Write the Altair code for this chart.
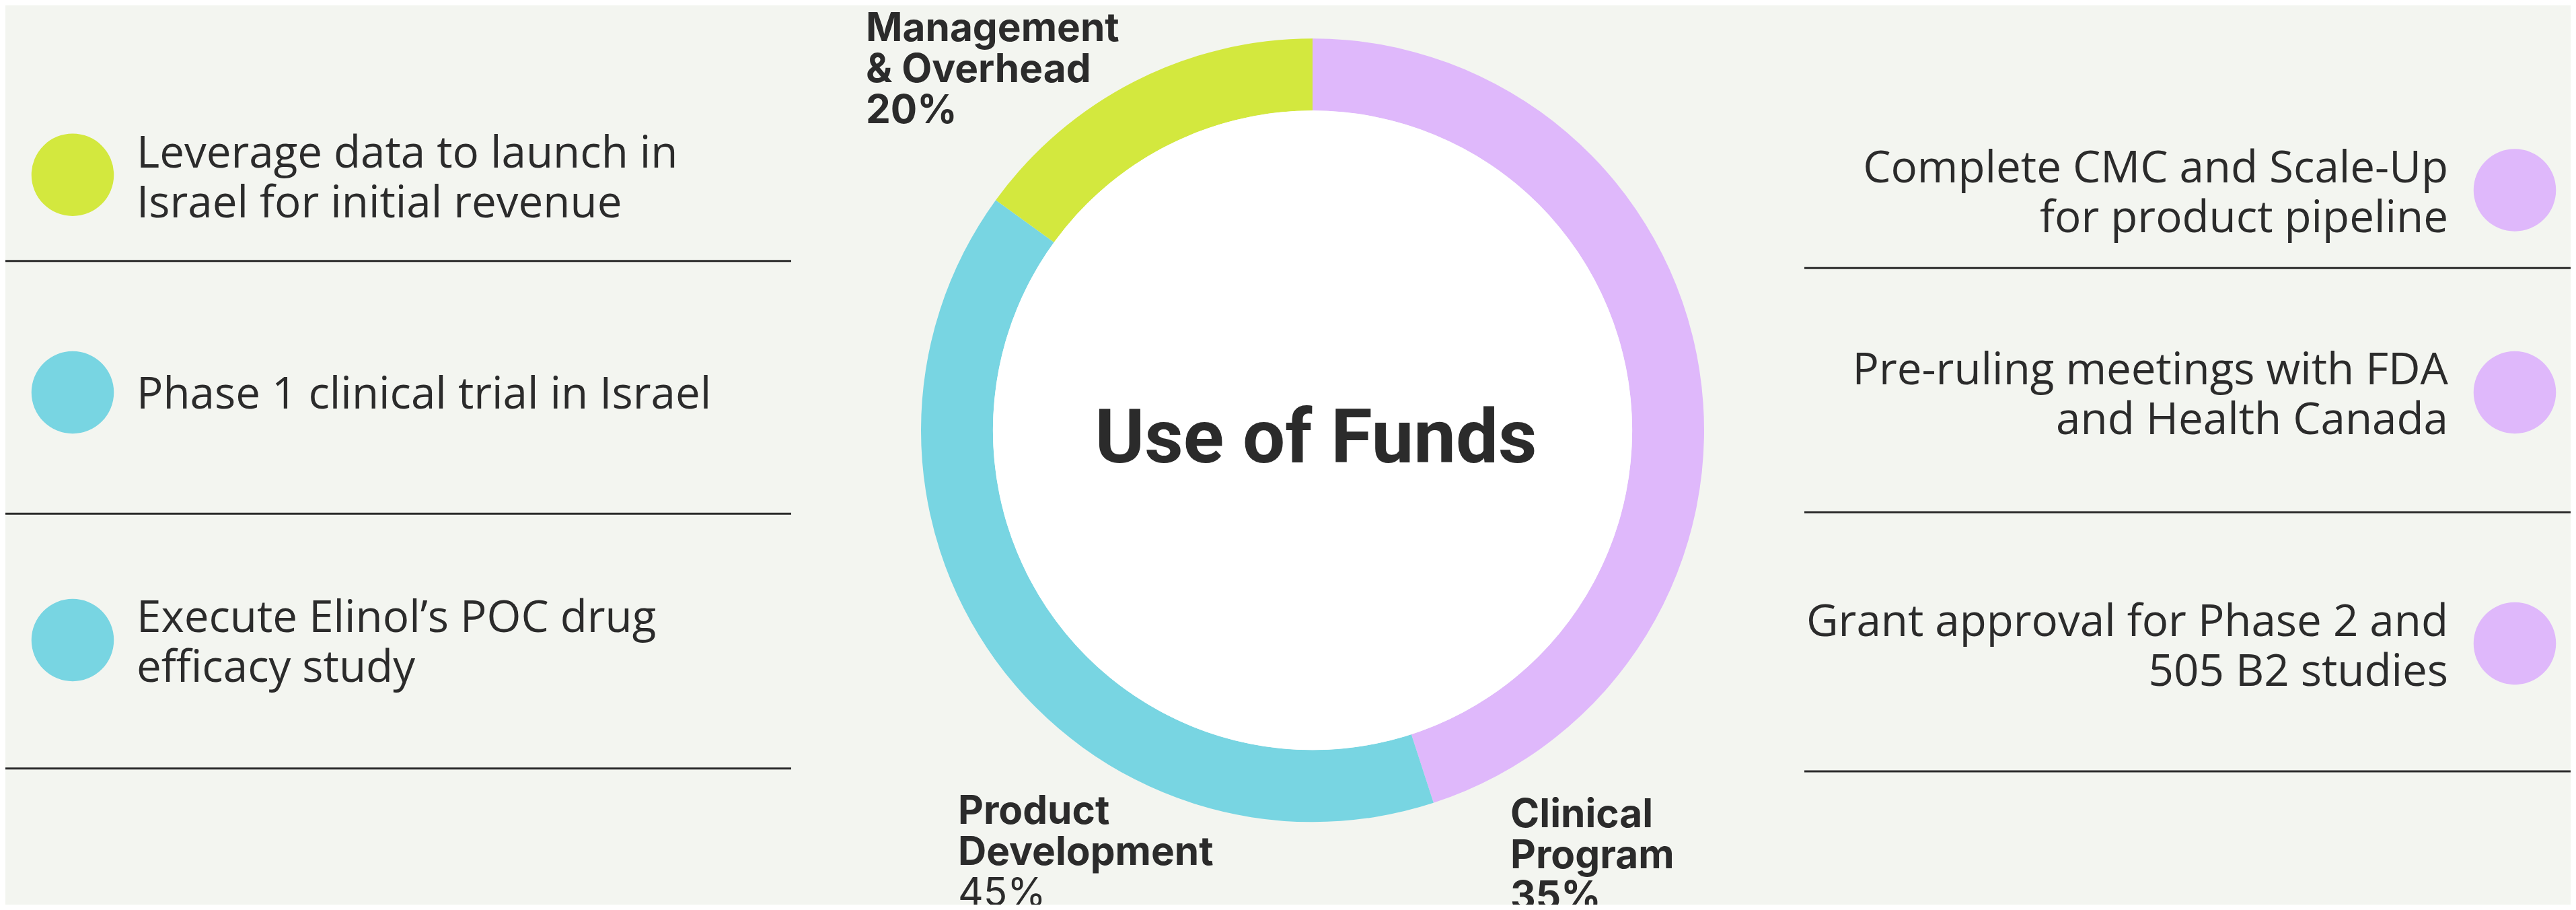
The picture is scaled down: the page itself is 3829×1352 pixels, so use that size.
import altair as alt
import pandas as pd

# ---------------- data ----------------
segments = ["Clinical Program", "Product Development", "Management & Overhead"]
shares = [45, 40, 15]                      # arc sizes as drawn
seg_names = ["Clinical\nProgram", "Product\nDevelopment", "Management\n& Overhead"]
seg_pcts = ["35%", "45%", "20%"]
seg_pct_weight = ["bold", "normal", "bold"]
seg_colors = ["#DFB8FB", "#78D5E2", "#D3E83E"]

left_items = [
    "Leverage data to launch in\nIsrael for initial revenue",
    "Phase 1 clinical trial in Israel",
    "Execute Elinol\u2019s POC drug\nefficacy study",
]
left_cats = ["Management & Overhead", "Product Development", "Product Development"]
right_items = [
    "Complete CMC and Scale-Up\nfor product pipeline",
    "Pre-ruling meetings with FDA\nand Health Canada",
    "Grant approval for Phase 2 and\n505 B2 studies",
]
right_cats = ["Clinical Program", "Clinical Program", "Clinical Program"]
title_text = "Use of Funds"

# ---------------- layout (reference pixels) ----------------
W, H = 3813, 1336
OFF = 8
BG = "#F3F5F0"
INK = "#2B2B2B"
CX, CY = 1951, 639.3
R_OUT, R_IN = 582, 475

seg_label_x = [2245, 1424, 1287]
seg_label_y = [1229, 1224, 61]
SEG_LH = 61
SEG_FS = 58.5

left_text_x = 203
left_text_y = [248.7, 607, 939]
left_dot_x = 108
left_dot_y = [259.7, 583, 951]
right_text_x = 3639
right_text_y = [270.7, 570.7, 945]
right_dot_x = 3738
right_dot_y = [282.5, 583, 956]
DOT_D = 122.5
ITEM_LH = 74
ITEM_FS = 65.5

left_lines_y = [387.7, 763.3, 1141.7]
left_lines_x = (0, 1176)
right_lines_y = [398.3, 761, 1146]
right_lines_x = (2682, 3829)

TITLE_X, TITLE_Y = 1956, 686.7

# ---------------- tables ----------------
donut = pd.DataFrame({"cat": segments, "share": shares, "ord": [0, 1, 2]})
seg_lab = pd.DataFrame({"name": seg_names, "x": seg_label_x, "y": seg_label_y})
seg_pct = pd.DataFrame({
    "pct": seg_pcts,
    "w": seg_pct_weight,
    "x": seg_label_x,
    "y": [v + 2 * SEG_LH for v in seg_label_y],
})
items_left = pd.DataFrame({"text": left_items, "x": left_text_x, "y": left_text_y})
items_right = pd.DataFrame({"text": right_items, "x": right_text_x, "y": right_text_y})
dots = pd.DataFrame({
    "cat": left_cats + right_cats,
    "x": [left_dot_x] * 3 + [right_dot_x] * 3,
    "y": left_dot_y + right_dot_y,
})
lines = pd.DataFrame({
    "x0": [left_lines_x[0]] * 3 + [right_lines_x[0]] * 3,
    "x1": [left_lines_x[1]] * 3 + [right_lines_x[1]] * 3,
    "y": left_lines_y + right_lines_y,
})
title_df = pd.DataFrame({"t": [title_text], "x": [TITLE_X], "y": [TITLE_Y]})

xs = alt.Scale(domain=[OFF, OFF + W], range=[0, W], zero=False, nice=False)
ys = alt.Scale(domain=[OFF, OFF + H], range=[0, H], zero=False, nice=False)
cs = alt.Scale(domain=segments, range=seg_colors)


def X(f):
    return alt.X(f"{f}:Q", scale=xs, axis=None)


def Y(f):
    return alt.Y(f"{f}:Q", scale=ys, axis=None)


rules = alt.Chart(lines).mark_rule(strokeWidth=3, color=INK).encode(
    x=X("x0"), x2="x1", y=Y("y")
)

dot_layer = alt.Chart(dots).mark_circle(size=DOT_D ** 2, opacity=1).encode(
    x=X("x"), y=Y("y"), color=alt.Color("cat:N", scale=cs, legend=None)
)

ring = alt.Chart(donut).mark_arc(radius=R_OUT, radius2=R_IN).encode(
    theta=alt.Theta("share:Q", stack=True),
    color=alt.Color("cat:N", scale=cs, legend=None),
    order=alt.Order("ord:Q"),
    x=alt.value(CX - OFF),
    y=alt.value(CY - OFF),
)

disc = alt.Chart(title_df).mark_arc(
    radius=R_IN, theta=0, theta2=6.2832, color="#FFFFFF"
).encode(x=alt.value(CX - OFF), y=alt.value(CY - OFF))

title = alt.Chart(title_df).mark_text(
    font="Roboto", fontWeight="bold", fontSize=112, align="center",
    baseline="alphabetic", color=INK
).encode(x=X("x"), y=Y("y"), text="t:N")

seg_text = alt.Chart(seg_lab).mark_text(
    font="Inter", fontWeight="bold", fontSize=SEG_FS, lineHeight=SEG_LH,
    lineBreak="\n", align="left", baseline="alphabetic", color=INK
).encode(x=X("x"), y=Y("y"), text="name:N")

pct_bold = alt.Chart(seg_pct).transform_filter(alt.datum.w == "bold").mark_text(
    font="Inter", fontWeight="bold", fontSize=SEG_FS, align="left",
    baseline="alphabetic", color=INK
).encode(x=X("x"), y=Y("y"), text="pct:N")

pct_norm = alt.Chart(seg_pct).transform_filter(alt.datum.w == "normal").mark_text(
    font="Inter", fontWeight="normal", fontSize=SEG_FS, align="left",
    baseline="alphabetic", color=INK
).encode(x=X("x"), y=Y("y"), text="pct:N")

left_text = alt.Chart(items_left).mark_text(
    font="Open Sans", fontSize=ITEM_FS, lineHeight=ITEM_LH, lineBreak="\n",
    align="left", baseline="alphabetic", color=INK
).encode(x=X("x"), y=Y("y"), text="text:N")

right_text = alt.Chart(items_right).mark_text(
    font="Open Sans", fontSize=ITEM_FS, lineHeight=ITEM_LH, lineBreak="\n",
    align="right", baseline="alphabetic", color=INK
).encode(x=X("x"), y=Y("y"), text="text:N")

chart = alt.layer(
    rules, dot_layer, ring, disc, title, seg_text, pct_bold, pct_norm,
    left_text, right_text
).properties(
    width=W, height=H, padding=0, autosize="none"
).configure(background=BG).configure_view(stroke=None)

chart.save("out.html", embed_options={"renderer": "svg", "actions": False})
